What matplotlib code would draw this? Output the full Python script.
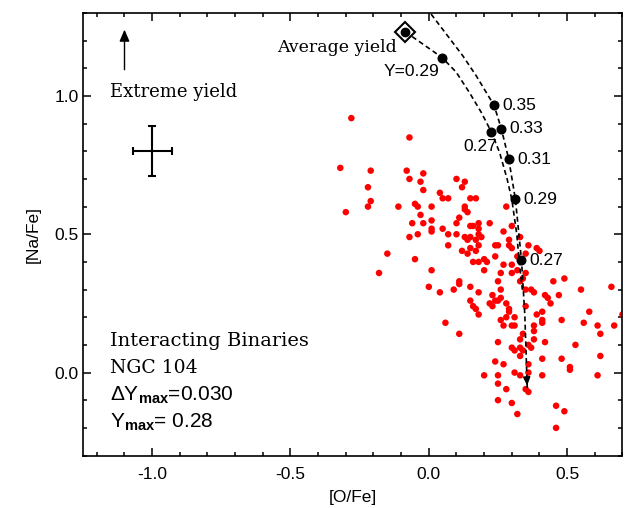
import matplotlib
matplotlib.use('Agg')
import matplotlib.pyplot as plt
from matplotlib.ticker import MultipleLocator, FormatStrFormatter

plt.rcParams['axes.unicode_minus'] = False
plt.rcParams['mathtext.fontset'] = 'custom'
plt.rcParams['mathtext.rm'] = 'Liberation Sans'
plt.rcParams['mathtext.bf'] = 'Liberation Sans:bold'
plt.rcParams['mathtext.it'] = 'Liberation Sans:italic'

SANS = 'Liberation Sans'
SERIF = 'DejaVu Serif'

# Observed stars in NGC 104 ([O/Fe], [Na/Fe])
o_fe = [
    -0.28, -0.07, -0.32, -0.21, -0.08, -0.02, -0.07, -0.03, 0.10, 0.13,
    -0.22, -0.02, 0.12, 0.04, 0.05, 0.07, 0.15, 0.17, -0.21, -0.22,
    -0.30, -0.11, -0.05, -0.04, 0.01, 0.13, 0.13, 0.14, -0.03, 0.01,
    -0.06, -0.02, 0.11, 0.10, 0.01, 0.01, 0.05, 0.15, 0.16, 0.18,
    0.18, -0.07, -0.04, 0.07, 0.10, 0.13, 0.14, 0.15, 0.17, 0.18,
    0.07, 0.12, 0.14, 0.15, 0.17, 0.18, -0.15, -0.05, 0.16, 0.18,
    0.01,
    -0.18, -0.00, 0.04, 0.09, 0.11, 0.11, 0.15, 0.18, 0.15, 0.16,
    0.17, 0.18, 0.06, 0.11,
    0.28, 0.22, 0.30, 0.27, 0.19, 0.29, 0.33, 0.24, 0.25, 0.29,
    0.30, 0.36, 0.39, 0.40, 0.35, 0.24, 0.32, 0.20, 0.21, 0.27,
    0.30,
    0.20, 0.26, 0.30, 0.32, 0.35, 0.34, 0.33, 0.45, 0.49, 0.25,
    0.23, 0.26, 0.35, 0.37, 0.38, 0.42, 0.47, 0.43, 0.44, 0.55,
    0.66, 0.22, 0.23, 0.24, 0.25, 0.26, 0.28, 0.29, 0.29, 0.26,
    0.28, 0.31, 0.27, 0.30, 0.31, 0.35, 0.39, 0.41, 0.41, 0.41,
    0.38, 0.38, 0.34, 0.38, 0.48, 0.56, 0.58, 0.61, 0.67, 0.62,
    0.70, 0.33, 0.25, 0.42, 0.53, 0.30, 0.31, 0.33, 0.34, 0.36,
    0.37, 0.33, 0.36, 0.24, 0.27, 0.41, 0.48, 0.51, 0.51, 0.62,
    0.20, 0.25, 0.31, 0.33, 0.36, 0.41, 0.61, 0.25, 0.28, 0.35,
    0.36, 0.25, 0.30, 0.46, 0.49, 0.32, 0.46,
]
na_fe = [
    0.92, 0.85, 0.74, 0.73, 0.73, 0.72, 0.70, 0.69, 0.70, 0.69,
    0.67, 0.66, 0.67, 0.65, 0.63, 0.63, 0.63, 0.63, 0.62, 0.60,
    0.58, 0.60, 0.61, 0.60, 0.60, 0.60, 0.59, 0.58, 0.57, 0.55,
    0.54, 0.54, 0.56, 0.54, 0.52, 0.51, 0.52, 0.53, 0.53, 0.54,
    0.52, 0.49, 0.50, 0.50, 0.50, 0.49, 0.48, 0.49, 0.48, 0.50,
    0.46, 0.44, 0.43, 0.45, 0.44, 0.46, 0.43, 0.41, 0.40, 0.40,
    0.37,
    0.36, 0.31, 0.29, 0.30, 0.33, 0.32, 0.31, 0.29, 0.26, 0.24,
    0.23, 0.21, 0.18, 0.14,
    0.60, 0.54, 0.53, 0.51, 0.49, 0.48, 0.49, 0.46, 0.46, 0.46,
    0.45, 0.46, 0.45, 0.44, 0.43, 0.42, 0.42, 0.41, 0.40, 0.39,
    0.39,
    0.37, 0.36, 0.36, 0.37, 0.36, 0.34, 0.33, 0.33, 0.34, 0.33,
    0.28, 0.30, 0.30, 0.30, 0.29, 0.28, 0.28, 0.27, 0.25, 0.30,
    0.31, 0.25, 0.24, 0.26, 0.26, 0.27, 0.25, 0.23, 0.22, 0.19,
    0.20, 0.20, 0.17, 0.17, 0.17, 0.24, 0.21, 0.22, 0.19, 0.18,
    0.17, 0.15, 0.14, 0.12, 0.19, 0.18, 0.22, 0.17, 0.17, 0.14,
    0.21, 0.12, 0.11, 0.11, 0.10, 0.09, 0.08, 0.09, 0.08, 0.10,
    0.09, 0.06, 0.03, 0.04, 0.03, 0.05, 0.05, 0.02, 0.01, 0.06,
    -0.01, -0.01, -0.00, -0.01, -0.00, -0.01, -0.01, -0.04, -0.06, -0.06,
    -0.07, -0.10, -0.11, -0.12, -0.14, -0.15, -0.20,
]

# Model track A (continues through the top of the frame)
track_a_x = [-0.01, 0.063, 0.123, 0.172, 0.208, 0.236, 0.262, 0.289, 0.313, 0.335, 0.347, 0.353, 0.356]
track_a_y = [1.32, 1.224, 1.145, 1.072, 1.012, 0.966, 0.882, 0.771, 0.626, 0.406, 0.209, 0.028, -0.057]
dots_a_x = [0.236, 0.262, 0.289, 0.313, 0.335]
dots_a_y = [0.966, 0.882, 0.771, 0.626, 0.406]
dots_a_lab = ['0.35', '0.33', '0.31', '0.29', '0.27']

# Model track B, starting from the average yield
track_b_x = [-0.085, 0.048, 0.099, 0.147, 0.190, 0.226, 0.256, 0.283, 0.300, 0.318, 0.327, 0.338]
track_b_y = [1.232, 1.139, 1.086, 1.012, 0.940, 0.870, 0.795, 0.700, 0.626, 0.500, 0.400, 0.300]
dots_b_x = [0.048, 0.226]
dots_b_y = [1.139, 0.870]

avg_yield = (-0.085, 1.232)
err_center = (-1.0, 0.80)
err_x, err_y = 0.07, 0.09

fig = plt.figure(figsize=(6.37, 5.08), dpi=100)
ax = fig.add_axes([0.1303, 0.1033, 0.8469, 0.8711])

ax.scatter(o_fe, na_fe, s=22, color='#ff0000', edgecolors='none', zorder=2)

ax.plot(track_a_x, track_a_y, color='black', lw=1.2, dashes=(3, 2), zorder=3)
ax.plot(track_b_x, track_b_y, color='black', lw=1.2, dashes=(3, 2), zorder=3)
ax.annotate('', xy=(track_a_x[-1], track_a_y[-1]), xytext=(track_a_x[-2], track_a_y[-2] - 0.03),
            arrowprops=dict(arrowstyle='-|>,head_length=0.5,head_width=0.22', color='black', lw=1.0),
            zorder=4)

ax.plot(dots_a_x, dots_a_y, 'o', color='black', ms=6.2, zorder=5)
ax.plot(dots_b_x, dots_b_y, 'o', color='black', ms=6.2, zorder=5)
ax.plot(*avg_yield, 'D', ms=10.5, mfc='white', mec='black', mew=1.5, zorder=5)
ax.plot(*avg_yield, 'o', color='black', ms=6, zorder=6)

for x, y, lab in zip(dots_a_x, dots_a_y, dots_a_lab):
    ax.text(x + 0.030, y, lab, family=SANS, fontsize=12.5, ha='left', va='center')
ax.text(-0.163, 1.087, 'Y=0.29', family=SANS, fontsize=12.5, ha='left', va='center')
ax.text(0.246, 0.818, '0.27', family=SANS, fontsize=12.5, ha='right', va='center')
ax.text(-0.114, 1.159, 'Average yield', family=SERIF, fontsize=12.5, ha='right', va='baseline')

# extreme yield arrow and error bar
ax.annotate('', xy=(-1.10, 1.25), xytext=(-1.10, 1.085),
            arrowprops=dict(arrowstyle='-|>,head_length=0.7,head_width=0.3', color='black', lw=1.0))
ax.text(-1.151, 0.998, 'Extreme yield', family=SERIF, fontsize=13, ha='left', va='baseline')
ax.errorbar(err_center[0], err_center[1], xerr=err_x, yerr=err_y, color='black',
            lw=1.5, capsize=3, capthick=1.5)

# cluster info block
ax.text(-1.151, 0.096, 'Interacting Binaries', family=SERIF, fontsize=14, va='baseline')
ax.text(-1.151, -0.002, 'NGC 104', family=SERIF, fontsize=13.5, va='baseline')
ax.text(-1.151, -0.100, r'ΔY$_{\mathbf{max}}$=0.030', family=SANS, fontsize=15, va='baseline')
ax.text(-1.151, -0.200, r'Y$_{\mathbf{max}}$= 0.28', family=SANS, fontsize=15, va='baseline')

ax.set_xlim(-1.25, 0.70)
ax.set_ylim(-0.30, 1.30)
ax.xaxis.set_major_locator(MultipleLocator(0.5))
ax.xaxis.set_minor_locator(MultipleLocator(0.1))
ax.yaxis.set_major_locator(MultipleLocator(0.5))
ax.yaxis.set_minor_locator(MultipleLocator(0.1))
ax.xaxis.set_major_formatter(FormatStrFormatter('%.1f'))
ax.yaxis.set_major_formatter(FormatStrFormatter('%.1f'))
ax.tick_params(which='both', direction='in', top=True, right=True, width=1.1)
ax.tick_params(which='major', length=6)
ax.tick_params(which='minor', length=3.2)
ax.tick_params(axis='x', which='major', pad=8, labelsize=12.5)
ax.tick_params(axis='y', which='major', pad=3, labelsize=12.5)
for lab in ax.get_xticklabels() + ax.get_yticklabels():
    lab.set_family(SANS)
for sp in ax.spines.values():
    sp.set_linewidth(1.2)

ax.set_xlabel('[O/Fe]', family=SANS, fontsize=12.5, labelpad=6)
ax.set_ylabel('[Na/Fe]', family=SANS, fontsize=12.5, labelpad=10)

plt.savefig('out.png', dpi=100)
